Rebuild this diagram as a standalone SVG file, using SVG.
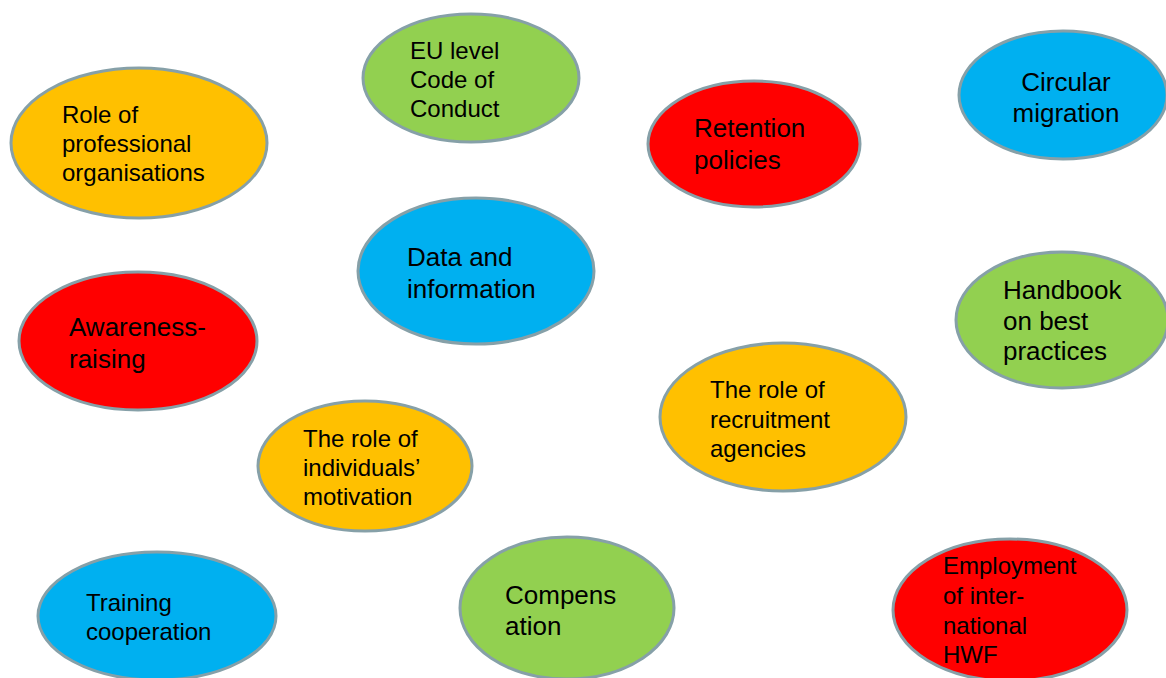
<svg xmlns="http://www.w3.org/2000/svg" width="1166" height="678" viewBox="0 0 1166 678">
<style>
ellipse{stroke:#86a0a8;stroke-width:3}
.o{fill:#ffc000}.r{fill:#ff0000}.g{fill:#92d050}.b{fill:#00b0f0}
text{font-family:"Liberation Sans",Arial,sans-serif;fill:#000}
.s24{font-size:24px}.s26{font-size:26px}
</style>
<rect width="1166" height="678" fill="#fff"/>
<g id="connectors"/>
<g id="n-professional"><ellipse class="o" cx="139" cy="143" rx="128" ry="75"/><text class="s24" x="62"><tspan x="62" y="123">Role of</tspan><tspan x="62" y="152">professional</tspan><tspan x="62" y="181">organisations</tspan></text></g>
<g id="n-eucode"><ellipse class="g" cx="471" cy="78" rx="108" ry="64"/><text class="s24"><tspan x="410" y="59">EU level</tspan><tspan x="410" y="88">Code of</tspan><tspan x="410" y="117">Conduct</tspan></text></g>
<g id="n-retention"><ellipse class="r" cx="754" cy="144" rx="106" ry="63"/><text class="s26"><tspan x="694" y="137">Retention</tspan><tspan x="694" y="169">policies</tspan></text></g>
<g id="n-circular"><ellipse class="b" cx="1063" cy="95" rx="104" ry="64"/><text class="s26" text-anchor="middle"><tspan x="1066" y="91">Circular</tspan><tspan x="1066" y="122">migration</tspan></text></g>
<g id="n-data"><ellipse class="b" cx="476" cy="271" rx="118" ry="73"/><text class="s26"><tspan x="407" y="266">Data and</tspan><tspan x="407" y="298">information</tspan></text></g>
<g id="n-handbook"><ellipse class="g" cx="1062" cy="320" rx="106" ry="68"/><text class="s26"><tspan x="1003" y="299">Handbook</tspan><tspan x="1003" y="330">on best</tspan><tspan x="1003" y="360">practices</tspan></text></g>
<g id="n-awareness"><ellipse class="r" cx="138" cy="341" rx="119" ry="69"/><text class="s26"><tspan x="69" y="336">Awareness-</tspan><tspan x="69" y="368">raising</tspan></text></g>
<g id="n-recruitment"><ellipse class="o" cx="783" cy="417" rx="123" ry="74"/><text class="s24"><tspan x="710" y="398">The role of</tspan><tspan x="710" y="428">recruitment</tspan><tspan x="710" y="457">agencies</tspan></text></g>
<g id="n-motivation"><ellipse class="o" cx="365" cy="466" rx="107" ry="65"/><text class="s24"><tspan x="303" y="447">The role of</tspan><tspan x="303" y="476">individuals’</tspan><tspan x="303" y="505">motivation</tspan></text></g>
<g id="n-training"><ellipse class="b" cx="157" cy="616" rx="119" ry="64"/><text class="s24"><tspan x="86" y="611">Training</tspan><tspan x="86" y="640">cooperation</tspan></text></g>
<g id="n-compensation"><ellipse class="g" cx="567" cy="608" rx="107" ry="71"/><text class="s26"><tspan x="505" y="604">Compens</tspan><tspan x="505" y="635">ation</tspan></text></g>
<g id="n-employment"><ellipse class="r" cx="1010" cy="610" rx="117" ry="71"/><text class="s24"><tspan x="943" y="574">Employment</tspan><tspan x="943" y="604">of inter-</tspan><tspan x="943" y="634">national</tspan><tspan x="943" y="663">HWF</tspan></text></g>
</svg>
